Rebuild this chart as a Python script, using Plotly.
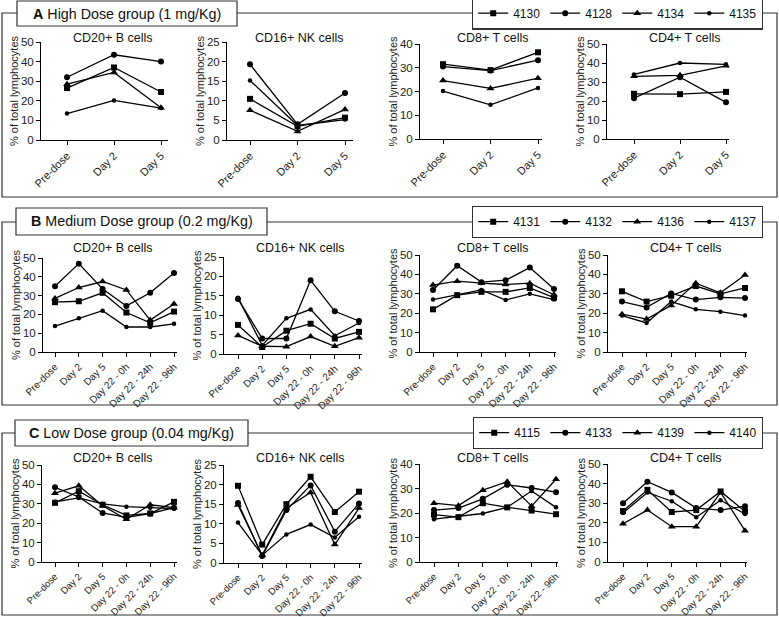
import plotly.graph_objects as go

# ---------------- data ----------------
tp_A = ["Pre-dose", "Day 2", "Day 5"]
tp_BC = ["Pre-dose", "Day 2", "Day 5", "Day 22 - 0h", "Day 22 - 24h", "Day 22 - 96h"]
cell_titles = ["CD20+ B cells", "CD16+ NK cells", "CD8+ T cells", "CD4+ T cells"]

ids_A = ["4130", "4128", "4134", "4135"]
ids_B = ["4131", "4132", "4136", "4137"]
ids_C = ["4115", "4133", "4139", "4140"]

# values per animal (order of ids), % of total lymphocytes
A_CD20 = [[26.5, 37.0, 24.5], [32.0, 43.5, 40.0], [28.5, 34.5, 16.5], [13.5, 20.2, 16.3]]
A_CD16 = [[10.5, 3.5, 5.7], [19.3, 4.0, 12.0], [7.6, 2.2, 7.8], [15.2, 3.7, 5.2]]
A_CD8 = [[31.5, 29.0, 36.5], [30.5, 28.8, 33.2], [24.6, 21.3, 25.6], [20.2, 14.4, 21.5]]
A_CD4 = [[23.8, 23.6, 24.8], [21.5, 32.5, 19.3], [33.0, 33.5, 38.5], [34.0, 40.0, 39.3]]

B_CD20 = [[26.5, 27.0, 31.5, 21.0, 15.5, 21.5], [35.0, 47.0, 33.5, 24.5, 31.5, 42.0],
          [28.5, 34.3, 37.5, 33.0, 17.0, 25.5], [13.8, 18.0, 22.0, 13.3, 13.3, 15.0]]
B_CD16 = [[7.5, 1.8, 6.0, 7.8, 4.0, 5.7], [14.2, 4.0, 4.0, 19.0, 11.0, 8.5],
          [4.8, 2.0, 1.9, 4.5, 2.0, 4.2], [14.5, 2.2, 9.2, 11.5, 4.7, 8.0]]
B_CD8 = [[22.0, 29.3, 31.0, 31.0, 33.0, 28.0], [32.0, 44.5, 36.0, 37.0, 43.5, 32.5],
         [34.5, 36.5, 35.5, 34.8, 35.5, 29.5], [27.0, 29.5, 32.0, 26.8, 30.0, 27.0]]
B_CD4 = [[31.3, 26.0, 29.0, 34.0, 30.0, 33.0], [26.0, 23.0, 30.2, 27.0, 28.2, 27.8],
         [19.5, 17.0, 24.0, 35.5, 30.5, 39.7], [18.8, 15.0, 26.0, 22.0, 20.8, 18.8]]

C_CD20 = [[30.5, 36.5, 29.5, 24.0, 25.0, 31.0], [38.5, 33.5, 25.3, 23.0, 25.0, 28.0],
          [35.5, 39.3, 29.0, 22.0, 29.5, 28.0], [31.0, 33.0, 30.0, 28.5, 28.0, 27.5]]
C_CD16 = [[19.7, 4.7, 15.0, 22.0, 13.0, 18.2], [15.3, 1.8, 13.5, 19.8, 8.0, 15.2],
          [14.8, 2.0, 14.0, 18.0, 4.7, 14.0], [10.3, 2.0, 7.3, 9.8, 6.5, 11.8]]
C_CD8 = [[19.3, 18.3, 24.0, 22.3, 21.0, 19.5], [21.2, 22.0, 25.8, 31.5, 30.2, 28.5],
         [24.0, 23.0, 29.3, 32.8, 22.8, 33.8], [17.5, 18.5, 19.8, 22.3, 29.0, 22.3]]
C_CD4 = [[26.0, 36.8, 25.5, 26.5, 36.0, 25.8], [30.0, 41.0, 35.5, 27.5, 26.5, 28.5],
         [19.5, 26.5, 18.0, 18.0, 35.5, 16.0], [25.0, 35.5, 31.0, 22.8, 31.5, 24.5]]

y_max = {"A": [50, 25, 40, 50], "B": [50, 25, 50, 50], "C": [50, 25, 40, 50]}
y_dtick = {"A": [10, 5, 10, 10], "B": [10, 5, 10, 10], "C": [10, 5, 10, 10]}

# ---------------- layout geometry (pixels) ----------------
W, H = 779, 617
FONT = "Liberation Sans, Arial, sans-serif"
# (axis-left, axis-right, first-category px, last-category px, top px, bottom px)
geom = {
    "A": [(41, 168, 67, 161, 42, 140), (227, 353, 250, 345, 42, 140),
          (420, 542, 443, 538, 44, 139), (607, 729, 634, 726, 44, 139)],
    "B": [(43, 177, 55, 174, 258, 352), (224, 362, 238, 359, 257, 354),
          (420, 556, 433, 554, 255, 352), (608, 747, 622, 745, 255, 352)],
    "C": [(42, 177, 55, 174, 465, 562), (224, 362, 238, 359, 465, 563),
          (420, 558, 434, 556, 464, 562), (608, 747, 623, 745, 464, 562)],
}
title_px = {"A": ([113, 299, 492, 684], 38), "B": ([113, 300, 492, 685], 248),
            "C": ([113, 300, 492, 685], 458)}
xtick_size = {"A": 11, "B": 10, "C": 9.6}

symbols = ["square", "circle", "triangle-up", "circle"]
msizes = [6, 6, 7, 4.5]

def fx(p):
    return p / W

def fy(p):
    return 1 - p / H

panels = [
    ("A", tp_A, ids_A, [A_CD20, A_CD16, A_CD8, A_CD4], "legend"),
    ("B", tp_BC, ids_B, [B_CD20, B_CD16, B_CD8, B_CD4], "legend2"),
    ("C", tp_BC, ids_C, [C_CD20, C_CD16, C_CD8, C_CD4], "legend3"),
]

fig = go.Figure()
layout = {}
annotations = []
k = 0
for pname, cats, ids, cells, legname in panels:
    n = len(cats)
    for ci, cell in enumerate(cells):
        k += 1
        xa = "x" if k == 1 else f"x{k}"
        ya = "y" if k == 1 else f"y{k}"
        x0, x1, c0, cl, yt, yb = geom[pname][ci]
        step = (cl - c0) / (n - 1)
        r0 = -(c0 - x0) / step
        r1 = (n - 1) + (x1 - cl) / step
        for si, sid in enumerate(ids):
            fig.add_trace(go.Scatter(
                x=cats, y=cell[si], xaxis=xa, yaxis=ya, name=sid,
                mode="lines+markers", cliponaxis=False,
                line=dict(color="black", width=1.3),
                marker=dict(symbol=symbols[si], size=msizes[si], color="black"),
                showlegend=(ci == 0), legend=legname,
            ))
        layout["xaxis" if k == 1 else f"xaxis{k}"] = dict(
            domain=[fx(x0), fx(x1)], anchor=ya, type="category", automargin=False,
            range=[r0, r1], showline=True, linecolor="black", linewidth=1,
            ticks="outside", ticklen=4, tickcolor="black", tickangle=-45,
            showgrid=False, zeroline=False,
            tickfont=dict(family=FONT, size=xtick_size[pname], color="#222"),
        )
        layout["yaxis" if k == 1 else f"yaxis{k}"] = dict(
            domain=[fy(yb), fy(yt)], anchor=xa, range=[0, y_max[pname][ci]],
            automargin=False,
            dtick=y_dtick[pname][ci], showline=True, linecolor="black", linewidth=1,
            ticks="outside", ticklen=4, tickcolor="black", showgrid=False,
            zeroline=False, tickfont=dict(family=FONT, size=11.5, color="#222"),
            title=dict(text="% of total lymphocytes", standoff=0,
                       font=dict(family=FONT, size=11, color="#222")),
        )
        annotations.append(dict(
            text=cell_titles[ci], x=fx(title_px[pname][0][ci]), y=fy(title_px[pname][1]),
            xref="paper", yref="paper", showarrow=False, xanchor="center", yanchor="middle",
            font=dict(family=FONT, size=12.5, color="#111"),
        ))

# frames, title boxes
frames = {"A": (2, 13, 777, 197), "B": (2, 222, 777, 405), "C": (2, 433, 777, 615)}
tboxes = {"A": (17, 1, 237, 26), "B": (16, 208, 267, 235), "C": (15, 420, 248, 446)}
ptitles = {"A": "<b>A</b> High Dose group (1 mg/Kg)",
           "B": "<b>B</b> Medium Dose group (0.2 mg/Kg)",
           "C": "<b>C</b> Low Dose group (0.04 mg/Kg)"}
shapes = []
for p in ["A", "B", "C"]:
    x0, y0, x1, y1 = frames[p]
    shapes.append(dict(type="rect", xref="paper", yref="paper", x0=fx(x0), x1=fx(x1),
                       y0=fy(y1), y1=fy(y0), line=dict(color="#333", width=1.2)))
for p in ["A", "B", "C"]:
    x0, y0, x1, y1 = tboxes[p]
    shapes.append(dict(type="rect", xref="paper", yref="paper", x0=fx(x0), x1=fx(x1),
                       y0=fy(y1), y1=fy(y0), fillcolor="white",
                       line=dict(color="#333", width=1.2)))
    annotations.append(dict(text=ptitles[p], x=fx((x0 + x1) / 2), y=fy((y0 + y1) / 2),
                            xref="paper", yref="paper", showarrow=False,
                            xanchor="center", yanchor="middle",
                            font=dict(family=FONT, size=14.3, color="#111")))

leg_y = {"legend": 13.5, "legend2": 222, "legend3": 433}
for name, py in leg_y.items():
    layout[name] = dict(orientation="h", x=fx(763), xanchor="right", y=fy(py),
                        yanchor="middle", bgcolor="white", bordercolor="#333",
                        borderwidth=1.2, itemwidth=30, tracegroupgap=0,
                        font=dict(family=FONT, size=12, color="#111"))

fig.update_layout(
    width=W, height=H, margin=dict(l=0, r=0, t=0, b=0, autoexpand=False),
    paper_bgcolor="white", plot_bgcolor="white",
    annotations=annotations, shapes=shapes,
    font=dict(family=FONT), **layout,
)
fig.write_html("out.html", config={"displayModeBar": False},
               post_script="document.body.style.margin='0';")
